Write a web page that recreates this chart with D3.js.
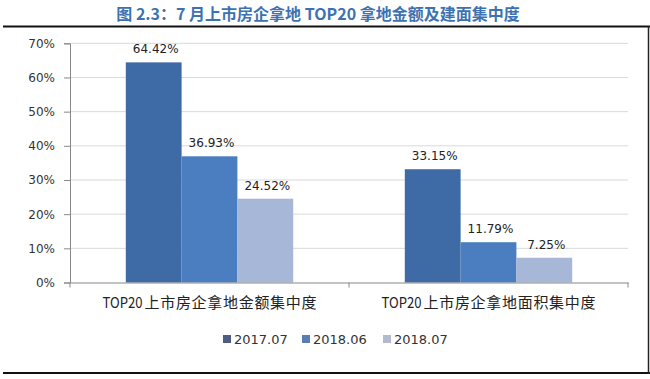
<!DOCTYPE html>
<html><head><meta charset="utf-8">
<script src="https://cdn.jsdelivr.net/npm/d3@7"></script>
<style>body{margin:0;background:#fff}svg{display:block}</style>
</head><body>
<script>
const categories = ["TOP20上市房企拿地金额集中度", "TOP20上市房企拿地面积集中度"];
const seriesNames = ["2017.07", "2018.06", "2018.07"];
const values2017_07 = [64.42, 33.15];
const values2018_06 = [36.93, 11.79];
const values2018_07 = [24.52, 7.25];
const yTicks = [0, 10, 20, 30, 40, 50, 60, 70];
const titleText = "图 2.3：7 月上市房企拿地 TOP20 拿地金额及建面集中度";

(function () {
const series = [values2017_07, values2018_06, values2018_07];
const barColors = ["#3e6aa6", "#4a7ec0", "#a7b7d8"];
const legendColors = ["#4d5c80", "#5a7db4", "#b3bacd"];

const W = 650, H = 379;
const svg = d3.select("body").append("svg").attr("width", W).attr("height", H);
const num = "DejaVu Sans, Verdana, sans-serif";
const cjk = "Noto Sans CJK SC, sans-serif";

// frame lines
svg.append("line").attr("x1", 3).attr("x2", 650).attr("y1", 26.5).attr("y2", 26.5).attr("stroke", "#111").attr("stroke-width", 2);
svg.append("line").attr("x1", 3).attr("x2", 650).attr("y1", 373).attr("y2", 373).attr("stroke", "#111").attr("stroke-width", 2);
svg.append("line").attr("x1", 648.5).attr("x2", 648.5).attr("y1", 26).attr("y2", 374).attr("stroke", "#222").attr("stroke-width", 1.5);

// title
svg.append("text").attr("x", 318).attr("y", 20).attr("text-anchor", "middle")
  .attr("font-family", cjk).attr("font-weight", "bold").attr("font-size", 16).attr("fill", "#3d72b2")
  .text(titleText);

const pLeft = 70, pRight = 628, pTop = 43.3, pBottom = 282.5;
const x0 = d3.scaleBand().domain(categories).range([pLeft, pRight]);
const x1 = d3.scaleBand().domain(seriesNames).range([0, x0.bandwidth()]).paddingOuter(1).paddingInner(0);
const y = d3.scaleLinear().domain([0, 70]).range([pBottom, pTop]);

// gridlines
svg.append("g").selectAll("line").data(yTicks.filter(d => d > 0)).join("line")
  .attr("x1", pLeft).attr("x2", pRight).attr("y1", d => y(d)).attr("y2", d => y(d))
  .attr("stroke", "#d9d9d9").attr("stroke-width", 1);

// y axis
const yAxis = svg.append("g").attr("transform", `translate(${pLeft},0)`)
  .call(d3.axisLeft(y).tickValues(yTicks).tickFormat(d => d + "%").tickSize(6).tickPadding(9));
yAxis.select(".domain").attr("stroke", "#888");
yAxis.selectAll(".tick line").attr("stroke", "#888");
yAxis.selectAll("text").attr("font-family", num).attr("font-size", 12).attr("fill", "#333");

// bars
series.forEach((vals, si) => {
  const g = svg.append("g");
  g.selectAll("rect").data(vals).join("rect")
    .attr("x", (d, i) => x0(categories[i]) + x1(seriesNames[si]))
    .attr("width", x1.bandwidth())
    .attr("y", d => y(d)).attr("height", d => y(0) - y(d))
    .attr("fill", barColors[si]);
  g.selectAll("text").data(vals).join("text")
    .attr("x", (d, i) => x0(categories[i]) + x1(seriesNames[si]) + x1.bandwidth() / 2 + 2)
    .attr("y", d => y(d) - 9)
    .attr("text-anchor", "middle").attr("font-family", num).attr("font-size", 12).attr("fill", "#222")
    .text(d => d.toFixed(2) + "%");
});

// x axis
const xAxis = svg.append("g").attr("transform", `translate(0,${pBottom})`)
  .call(d3.axisBottom(x0).tickSize(0).tickFormat(""));
xAxis.select(".domain").attr("stroke", "#888");
svg.append("g").selectAll("line").data([pLeft, x0(categories[1]), pRight]).join("line")
  .attr("x1", d => d).attr("x2", d => d).attr("y1", pBottom).attr("y2", pBottom + 5)
  .attr("stroke", "#888");
const clg = svg.append("g").selectAll("g").data(categories).join("g")
  .attr("transform", d => `translate(${x0(d) + x0.bandwidth() / 2 - 107},308)`)
  .attr("font-family", cjk).attr("font-size", 15).attr("fill", "#222");
clg.append("text").attr("x", 0).attr("textLength", 40).attr("lengthAdjust", "spacingAndGlyphs").text(d => d.slice(0, 5));
clg.append("text").attr("x", 42).attr("textLength", 172).attr("lengthAdjust", "spacing").text(d => d.slice(5));

// legend
const legX = [223, 302, 383];
const lg = svg.append("g").selectAll("g").data(seriesNames).join("g")
  .attr("transform", (d, i) => `translate(${legX[i]},335)`);
lg.append("rect").attr("width", 8).attr("height", 8).attr("fill", (d, i) => legendColors[i]);
lg.append("text").attr("x", 11).attr("y", 8.5).attr("font-family", num).attr("font-size", 13)
  .attr("fill", "#333").text(d => d);
})();
</script>
</body></html>
